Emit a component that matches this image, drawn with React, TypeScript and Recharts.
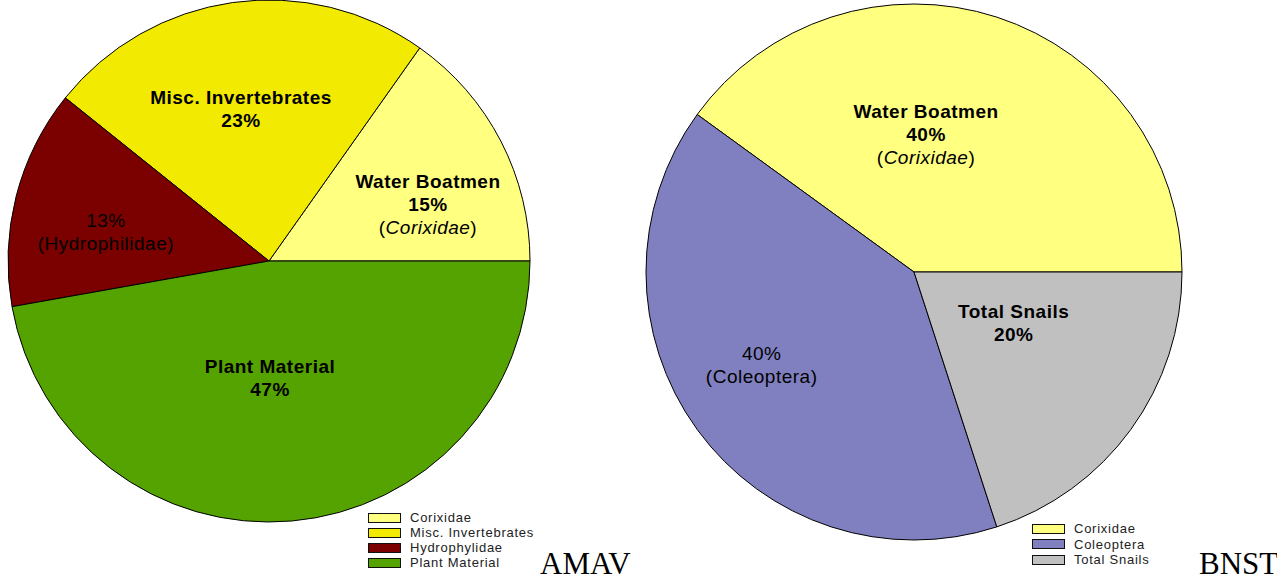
import React from 'react';
import { PieChart, Pie, Cell, Legend } from 'recharts';

// ---------- data: AMAV (left) ----------
const amavCategories = ['Corixidae', 'Misc. Invertebrates', 'Hydrophylidae', 'Plant Material'];
const amavValues = [15.2, 24.05, 13.55, 47.2];
const amavPercentLabels = ['15%', '23%', '13%', '47%'];
const amavLabelTitles = ['Water Boatmen', 'Misc. Invertebrates', '', 'Plant Material'];
const amavLabelNotes = ['Corixidae', '', 'Hydrophilidae', ''];
const amavNoteItalic = [true, false, false, false];
const amavColors = ['#FFFF80', '#F2EA00', '#7B0000', '#55A300'];

// ---------- data: BNST (right) ----------
const bnstCategories = ['Corixidae', 'Coleoptera', 'Total Snails'];
const bnstValues = [40, 40, 20];
const bnstPercentLabels = ['40%', '40%', '20%'];
const bnstLabelTitles = ['Water Boatmen', '', 'Total Snails'];
const bnstLabelNotes = ['Corixidae', 'Coleoptera', ''];
const bnstNoteItalic = [true, false, false];
const bnstColors = ['#FFFF80', '#8080C0', '#C0C0C0'];

// label anchor placement (angle in degrees, fraction of radius)
const amavLabelAngles = [19.7, 100.4, 169.7, 270.5];
const amavLabelRadii = [0.647, 0.594, 0.635, 0.448];
const bnstLabelAngles = [85, 211.4, 333.1];
const bnstLabelRadii = [0.515, 0.666, 0.417];

const SANS = '"Liberation Sans", Arial, Helvetica, sans-serif';
const SERIF = '"Liberation Serif", "Times New Roman", serif';

type Seg = { t: string; b?: boolean; i?: boolean };

function buildLines(titles: string[], percents: string[], notes: string[], italics: boolean[]) {
  return titles.map((title, k) => {
    const lines: Seg[][] = [];
    if (title) lines.push([{ t: title, b: true }]);
    lines.push([{ t: percents[k], b: !!title }]);
    if (notes[k]) {
      lines.push([{ t: '(' }, { t: notes[k], i: italics[k] }, { t: ')' }]);
    }
    return lines;
  });
}

const makeLabel = (allLines: Seg[][][], angles: number[], radii: number[]) => (props: any) => {
  const { cx, cy, outerRadius, index } = props;
  const a = (angles[index] * Math.PI) / 180;
  const rr = outerRadius * radii[index];
  const x = cx + rr * Math.cos(a);
  const y = cy - rr * Math.sin(a);
  const lines = allLines[index];
  const lh = 23;
  const fs = 19;
  const top = y - ((lines.length - 1) * lh) / 2 + fs * 0.36;
  return (
    <text
      key={`lbl-${index}`}
      x={x}
      y={top}
      textAnchor="middle"
      fill="#000"
      fontFamily={SANS}
      fontSize={fs}
      style={{ letterSpacing: '0.5px' }}
    >
      {lines.map((line, li) => (
        <tspan key={li} x={x} y={top + li * lh}>
          {line.map((s, si) => (
            <tspan key={si} fontWeight={s.b ? 'bold' : 'normal'} fontStyle={s.i ? 'italic' : 'normal'}>
              {s.t}
            </tspan>
          ))}
        </tspan>
      ))}
    </text>
  );
};

const makeLegend = (cats: string[], colors: string[], rowH: number) => () => (
  <div style={{ fontFamily: SANS, fontSize: 13, color: '#222', letterSpacing: '0.75px' }}>
    {cats.map((c, i) => (
      <div key={c} style={{ display: 'flex', alignItems: 'center', height: rowH }}>
        <div
          style={{
            width: 31,
            height: 8,
            background: colors[i],
            border: '1px solid #111',
            marginRight: 9,
            flex: '0 0 auto',
          }}
        />
        <span style={{ lineHeight: `${rowH}px`, whiteSpace: 'nowrap' }}>{c}</span>
      </div>
    ))}
  </div>
);

const amavData = amavCategories.map((name, i) => ({ name, value: amavValues[i] }));
const bnstData = bnstCategories.map((name, i) => ({ name, value: bnstValues[i] }));

const amavLines = buildLines(amavLabelTitles, amavPercentLabels, amavLabelNotes, amavNoteItalic);
const bnstLines = buildLines(bnstLabelTitles, bnstPercentLabels, bnstLabelNotes, bnstNoteItalic);

const noMargin = { top: 0, right: 0, bottom: 0, left: 0 };

export default function App() {
  return (
    <div style={{ position: 'absolute', left: 0, top: 0, width: 1277, height: 580, background: '#fff', overflow: 'hidden' }}>
      <div style={{ position: 'absolute', left: 0, top: 0 }}>
        <PieChart width={640} height={580} margin={noMargin}>
          <Pie
            data={amavData}
            dataKey="value"
            nameKey="name"
            cx={269}
            cy={261}
            outerRadius={261}
            startAngle={0}
            endAngle={360}
            stroke="#000"
            strokeWidth={1}
            isAnimationActive={false}
            labelLine={false}
            label={makeLabel(amavLines, amavLabelAngles, amavLabelRadii)}
          >
            {amavData.map((d, i) => (
              <Cell key={d.name} fill={amavColors[i]} />
            ))}
          </Pie>
          <Legend
            layout="vertical"
            align="right"
            verticalAlign="middle"
            content={makeLegend(amavCategories, amavColors, 15)}
            wrapperStyle={{ left: 368, top: 510, right: 'auto', bottom: 'auto', width: 200 }}
          />
        </PieChart>
      </div>
      <div style={{ position: 'absolute', left: 640, top: 0 }}>
        <PieChart width={637} height={580} margin={noMargin}>
          <Pie
            data={bnstData}
            dataKey="value"
            nameKey="name"
            cx={274}
            cy={272}
            outerRadius={268}
            startAngle={0}
            endAngle={360}
            stroke="#000"
            strokeWidth={1}
            isAnimationActive={false}
            labelLine={false}
            label={makeLabel(bnstLines, bnstLabelAngles, bnstLabelRadii)}
          >
            {bnstData.map((d, i) => (
              <Cell key={d.name} fill={bnstColors[i]} />
            ))}
          </Pie>
          <Legend
            layout="vertical"
            align="right"
            verticalAlign="middle"
            content={makeLegend(bnstCategories, bnstColors, 15.5)}
            wrapperStyle={{ left: 392, top: 521, right: 'auto', bottom: 'auto', width: 200 }}
          />
        </PieChart>
      </div>
      <svg width={1277} height={580} style={{ position: 'absolute', left: 0, top: 0, pointerEvents: 'none' }}>
        <text x={540} y={574} fontFamily={SERIF} fontSize={31} fill="#000">AMAV</text>
        <text x={1199} y={574} fontFamily={SERIF} fontSize={31} fill="#000">BNST</text>
      </svg>
    </div>
  );
}
